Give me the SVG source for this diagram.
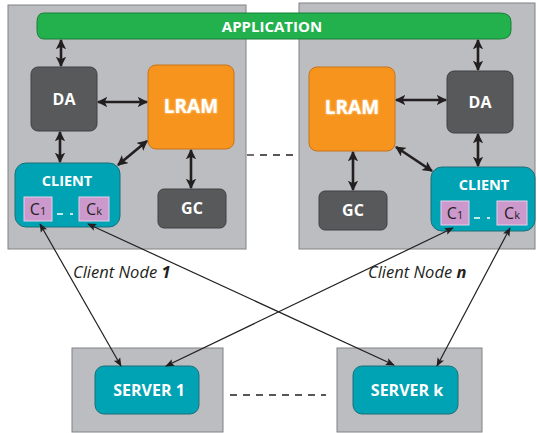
<svg xmlns="http://www.w3.org/2000/svg" width="537" height="433" viewBox="0 0 537 433">
<defs>
<marker id="ah" viewBox="0 0 10 10" refX="9" refY="5" markerWidth="4" markerHeight="4" orient="auto-start-reverse" markerUnits="strokeWidth"><path d="M0,0 L10,5 L0,10 L2.5,5 z" fill="#231f20"/></marker>
<marker id="ta" viewBox="0 0 10 10" refX="9" refY="5" markerWidth="7.5" markerHeight="7.5" orient="auto-start-reverse" markerUnits="strokeWidth"><path d="M0,1 L10,5 L0,9 L2,5 z" fill="#231f20"/></marker>
<filter id="glow" x="-20%" y="-40%" width="140%" height="180%"><feGaussianBlur stdDeviation="1.2"/></filter>
</defs>
<style>
.panel{fill:#bcbdc0;stroke:#808285;stroke-width:1}
.dark{fill:#58595b;stroke:#3f4042;stroke-width:1}
.orange{fill:#f7941d;stroke:#c8731a;stroke-width:1}
.teal{fill:#00a3b4;stroke:#1d6f78;stroke-width:1}
.pink{fill:#cc99cc;stroke:#e8d0e8;stroke-width:1}
.lbl{font-family:"Open Sans","Liberation Sans",sans-serif;font-weight:bold;fill:#ffffff;text-anchor:middle}
.ck{font-family:"Open Sans","Liberation Sans",sans-serif;fill:#231f20;text-anchor:middle}
.thick{stroke:#231f20;stroke-width:2.6;fill:none;marker-start:url(#ah);marker-end:url(#ah)}
.thin{stroke:#231f20;stroke-width:1.2;fill:none;marker-start:url(#ta);marker-end:url(#ta)}
.dash{stroke:#231f20;stroke-width:1.3;stroke-dasharray:7,6;fill:none}
.it{font-family:"Open Sans","Liberation Sans",sans-serif;font-style:italic;font-size:16.5px;fill:#231f20}
</style>

<g id="clientnode1">
<rect class="panel" x="8" y="5" width="238" height="244"/>
</g>
<g id="clientnoden">
<rect class="panel" x="299" y="3" width="236" height="246"/>
</g>
<g id="server1panel">
<rect class="panel" x="72" y="348" width="151" height="84" stroke="none"/>
</g>
<g id="serverkpanel">
<rect class="panel" x="337" y="348" width="145" height="84" stroke="none"/>
</g>

<g id="application">
<path d="M44,13 H500 Q511,13 511,22 V30 Q511,39 500,39 H44 Q37,39 37,30 V22 Q37,13 44,13 Z" fill="#22b14c" stroke="#1a7f38" stroke-width="1"/>
<text class="lbl" x="272" y="31.5" font-size="15">APPLICATION</text>
</g>

<g id="da1">
<rect class="dark" x="31" y="67" width="66" height="64" rx="7"/>
<text class="lbl" x="64" y="105" font-size="16">DA</text>
</g>
<g id="lram1">
<rect class="orange" x="148" y="65" width="86" height="84" rx="8"/>
<text class="lbl" x="191" y="113" font-size="19" filter="url(#glow)" style="fill:#ffe8c0">LRAM</text>
<text class="lbl" x="191" y="113" font-size="19">LRAM</text>
</g>
<g id="client1">
<rect class="teal" x="15" y="163" width="105" height="64" rx="11"/>
<text class="lbl" x="67" y="186" font-size="14.5">CLIENT</text>
<rect class="pink" x="24" y="197" width="28" height="24"/>
<text class="ck" x="38" y="215" font-size="16">C<tspan font-size="11">1</tspan></text>
<rect class="pink" x="79" y="197" width="30" height="24"/>
<text class="ck" x="94" y="215" font-size="16">C<tspan font-size="11">k</tspan></text>
<path d="M57,214 H63 M70,214 H73" stroke="#ffffff" stroke-width="1.5"/>
</g>
<g id="gc1">
<rect class="dark" x="158" y="189" width="68" height="39" rx="6"/>
<text class="lbl" x="192" y="214" font-size="16">GC</text>
</g>

<g id="lram2">
<rect class="orange" x="309" y="67" width="86" height="84" rx="8"/>
<text class="lbl" x="352" y="114" font-size="19" filter="url(#glow)" style="fill:#ffe8c0">LRAM</text>
<text class="lbl" x="352" y="114" font-size="19">LRAM</text>
</g>
<g id="da2">
<rect class="dark" x="447" y="71" width="66" height="62" rx="7"/>
<text class="lbl" x="480" y="108" font-size="16">DA</text>
</g>
<g id="client2">
<rect class="teal" x="431" y="167" width="104" height="64" rx="11"/>
<text class="lbl" x="484" y="190" font-size="14.5">CLIENT</text>
<rect class="pink" x="441" y="201" width="28" height="24"/>
<text class="ck" x="455" y="219" font-size="16">C<tspan font-size="11">1</tspan></text>
<rect class="pink" x="497" y="201" width="30" height="24"/>
<text class="ck" x="512" y="219" font-size="16">C<tspan font-size="11">k</tspan></text>
<path d="M474,218 H480 M487,218 H490" stroke="#ffffff" stroke-width="1.5"/>
</g>
<g id="gc2">
<rect class="dark" x="319" y="191" width="68" height="39" rx="6"/>
<text class="lbl" x="353" y="216" font-size="16">GC</text>
</g>

<g id="server1">
<rect class="teal" x="95" y="366" width="104" height="48" rx="9"/>
<text class="lbl" x="149" y="396" font-size="16">SERVER 1</text>
</g>
<g id="serverk">
<rect class="teal" x="353" y="366" width="105" height="48" rx="9"/>
<text class="lbl" x="407" y="396" font-size="16">SERVER k</text>
</g>

<g id="connectors">
<line class="thick" x1="61" y1="40" x2="61" y2="66"/>
<line class="thick" x1="98" y1="102" x2="147" y2="102"/>
<line class="thick" x1="60" y1="132" x2="60" y2="162"/>
<line class="thick" x1="147" y1="141" x2="118" y2="165"/>
<line class="thick" x1="191" y1="150" x2="191" y2="188"/>
<line class="thick" x1="478" y1="40" x2="478" y2="70"/>
<line class="thick" x1="396" y1="100" x2="446" y2="100"/>
<line class="thick" x1="478" y1="134" x2="478" y2="166"/>
<line class="thick" x1="396" y1="147" x2="432" y2="171"/>
<line class="thick" x1="353" y1="152" x2="353" y2="190"/>
<line class="thin" x1="40" y1="224" x2="121" y2="366"/>
<line class="thin" x1="88" y1="224" x2="394" y2="365"/>
<line class="thin" x1="453" y1="228" x2="166" y2="366"/>
<line class="thin" x1="510" y1="228" x2="437" y2="366"/>
<line class="dash" x1="247" y1="155" x2="299" y2="155"/>
<line class="dash" x1="230" y1="395" x2="326" y2="395"/>
</g>

<text class="it" x="73" y="278">Client Node <tspan font-weight="bold">1</tspan></text>
<text class="it" x="368" y="278">Client Node <tspan font-weight="bold">n</tspan></text>
</svg>
